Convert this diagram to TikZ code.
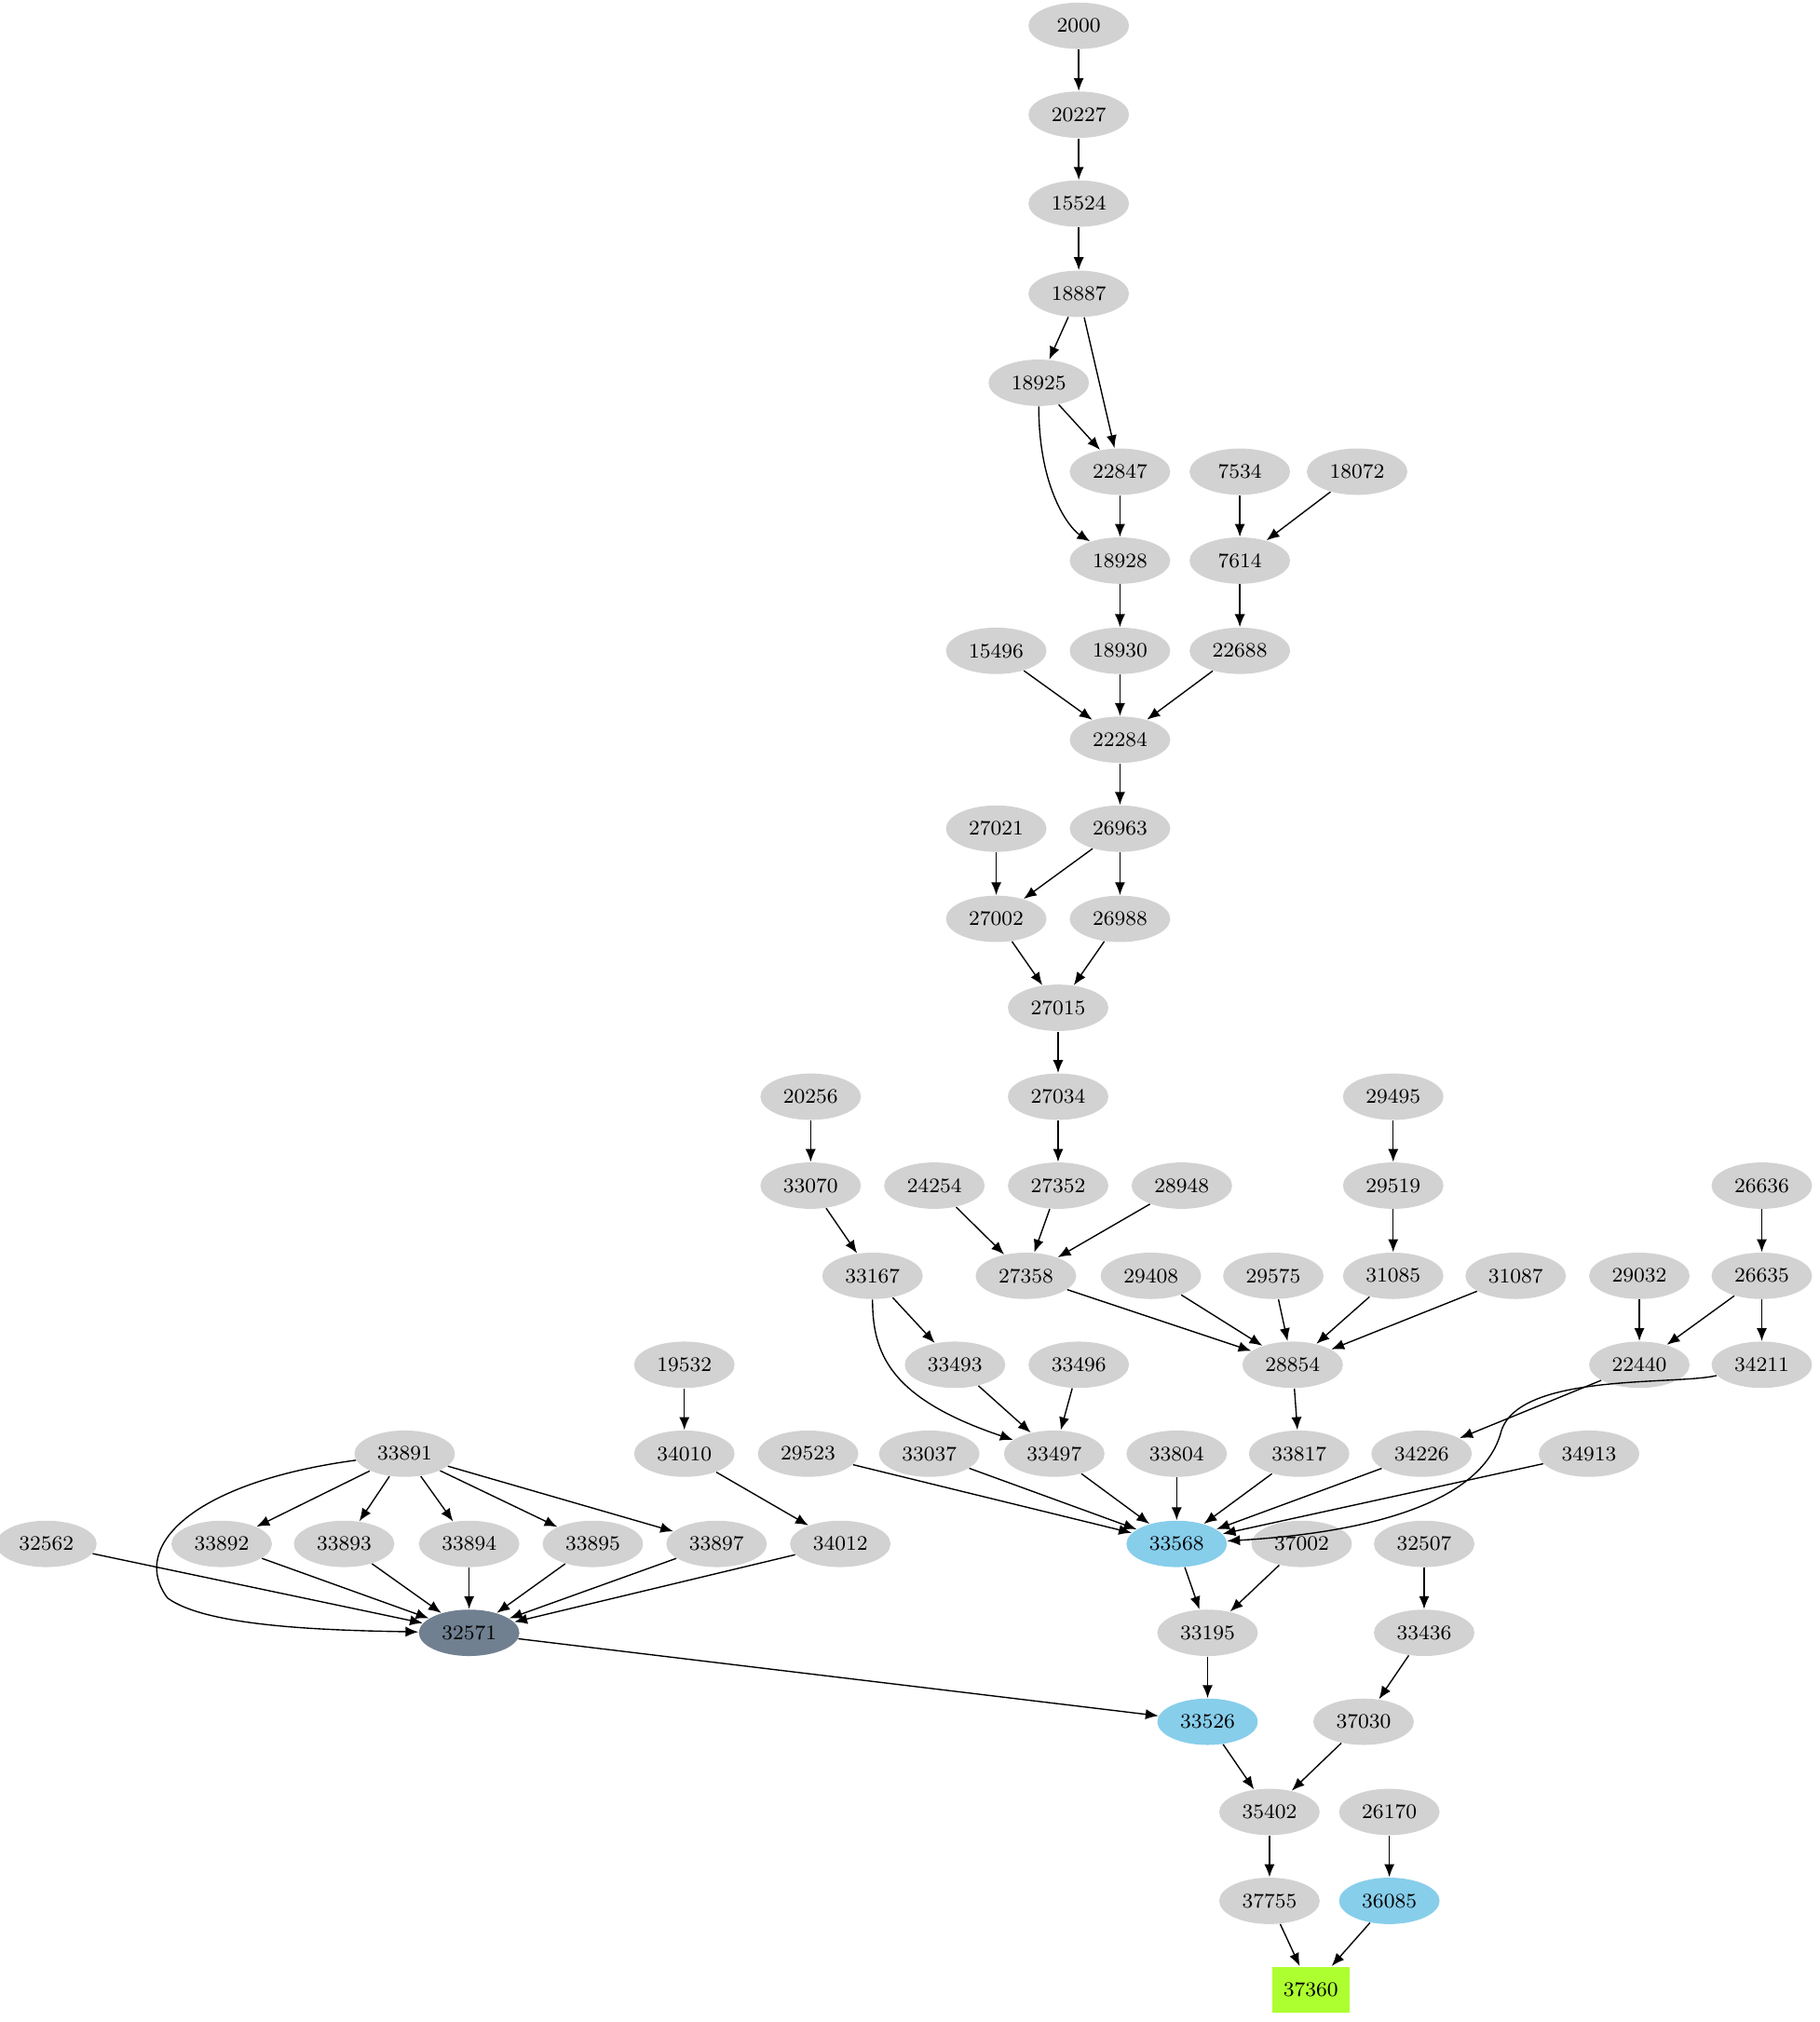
\documentclass[tikz,border=0pt]{standalone}
\usetikzlibrary{shapes.geometric,arrows.meta}
\begin{document}
\begin{tikzpicture}[x=0.5pt,y=-0.5pt,
 nd/.style={ellipse,fill=gray!35,minimum width=39pt,minimum height=18pt,inner sep=0pt,font=\fontsize{8}{9}\selectfont},
 bl/.style={nd,fill=cyan!45!blue!25!white,fill={rgb,255:red,135;green,206;blue,235}},
 sg/.style={nd,fill={rgb,255:red,112;green,128;blue,144}},
 gbox/.style={rectangle,fill={rgb,255:red,173;green,255;blue,47},minimum width=30pt,minimum height=18pt,inner sep=0pt,font=\fontsize{8}{9}\selectfont},
 e/.style={-{Latex[length=5pt,width=4pt]},black,line width=0.5pt}]
\useasboundingbox (0,0) rectangle (1412,1569);
\foreach \n/\x/\y in {2000/837/20,20227/837/89,15524/837/158,18887/837/228,18925/806/297,22847/869/366,7534/962/366,18072/1053/366,18928/869/435,7614/962/435,15496/773/505,18930/869/505,22688/962/505,22284/869/574,27021/773/643,26963/869/643,27002/773/713,26988/869/713,27015/821/782,20256/629/851,27034/821/851,29495/1081/851,33070/629/920,24254/725/920,27352/821/920,28948/917/920,29519/1081/920,26636/1367/920,33167/677/990,27358/796/990,29408/893/990,29575/988/990,31085/1081/990,31087/1176/990,29032/1272/990,26635/1367/990,19532/531/1059,33493/741/1059,33496/837/1059,28854/1003/1059,22440/1272/1059,34211/1367/1059,33891/314/1128,34010/531/1128,29523/627/1128,33037/721/1128,33497/818/1128,33804/913/1128,33817/1008/1128,34226/1103/1128,34913/1233/1128,32562/36/1198,33892/172/1198,33893/267/1198,33894/364/1198,33895/460/1198,33897/556/1198,34012/652/1198,37002/1010/1198,32507/1105/1198,33195/937/1267,33436/1105/1267,37030/1058/1336,35402/985/1406,26170/1078/1406,37755/985/1475}
 \node[nd] (n\n) at (\x,\y) {\n};
\node[bl] (n33568) at (913,1198) {33568};
\node[bl] (n33526) at (937,1336) {33526};
\node[bl] (n36085) at (1078,1475) {36085};
\node[sg] (n32571) at (364,1267) {32571};
\node[gbox] (n37360) at (1017,1544) {37360};
\foreach \a/\b in {2000/20227,20227/15524,15524/18887,18887/18925,18887/22847,18925/22847,22847/18928,7534/7614,18072/7614,18928/18930,7614/22688,15496/22284,18930/22284,22688/22284,22284/26963,27021/27002,26963/27002,26963/26988,27002/27015,26988/27015,27015/27034,27034/27352,20256/33070,33070/33167,24254/27358,27352/27358,28948/27358,29495/29519,29519/31085,26636/26635,33167/33493,27358/28854,29408/28854,29575/28854,31085/28854,31087/28854,29032/22440,26635/22440,26635/34211,19532/34010,33493/33497,33496/33497,28854/33817,22440/34226,33891/33892,33891/33893,33891/33894,33891/33895,33891/33897,34010/34012,29523/33568,33037/33568,33497/33568,33804/33568,33817/33568,34226/33568,34913/33568,32562/32571,33892/32571,33893/32571,33894/32571,33895/32571,33897/32571,34012/32571,33568/33195,37002/33195,32507/33436,32571/33526,33195/33526,33436/37030,33526/35402,37030/35402,35402/37755,26170/36085,37755/37360,36085/37360}
 \draw[e] (n\a) -- (n\b);
\draw[e] (n18925) .. controls (806,380) and (830,410) .. (n18928);
\draw[e] (n33891) .. controls (150,1150) and (100,1200) .. (130,1240) .. controls (160,1262) and (250,1265) .. (n32571);
\draw[e] (n33167) .. controls (677,1050) and (690,1085) .. (n33497);
\draw[e] (n34211) .. controls (1300,1075) and (1180,1065) .. (1165,1110) .. controls (1150,1170) and (1050,1190) .. (n33568);
\end{tikzpicture}
\end{document}
